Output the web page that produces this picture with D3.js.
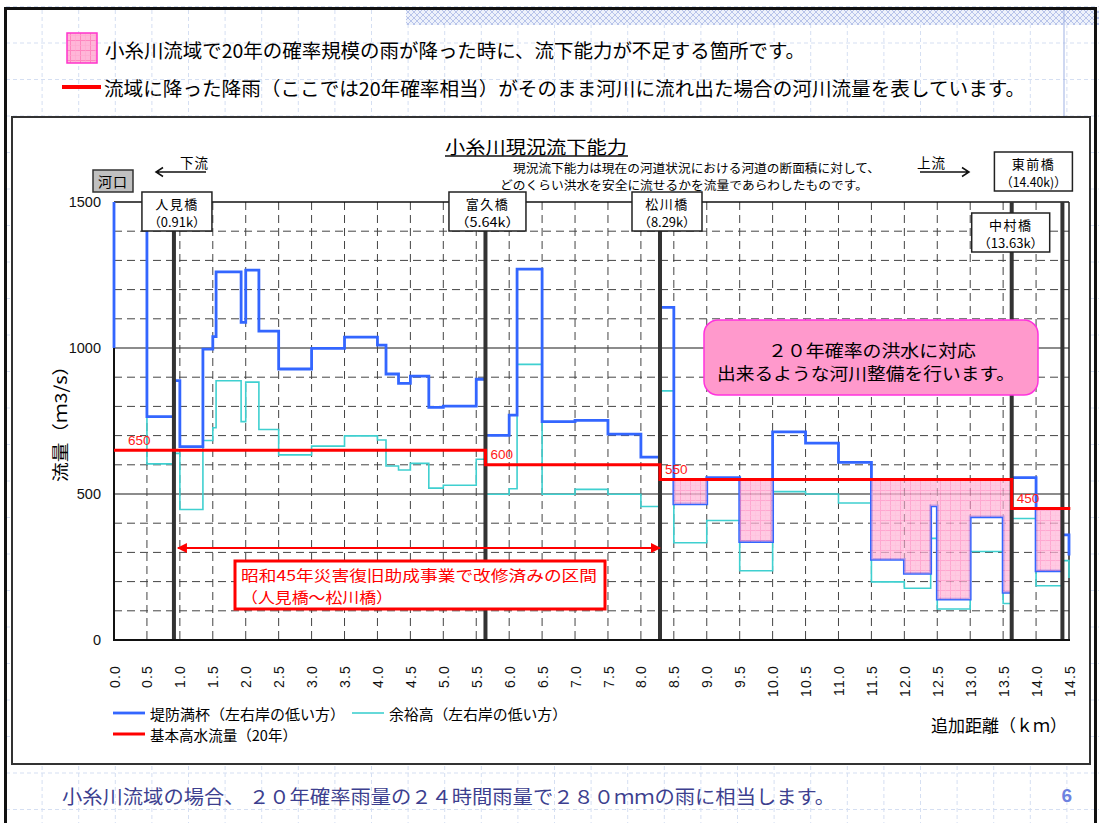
<!DOCTYPE html>
<html>
<head>
<meta charset="utf-8">
<script src="https://cdn.jsdelivr.net/npm/d3@7"></script>
<style>
body { margin: 0; background: #fff; }
svg { display: block; font-family: "Noto Sans CJK JP", "Noto Sans", sans-serif; }
.num { font-family: "Liberation Sans", Arial, sans-serif; }
</style>
</head>
<body>
<svg id="chart" width="1099" height="823"></svg>
<script>
// step data: distance (km) where a step starts, value (m3/s) held until the next one
var stepKm = [0, 0, 0.5, 0.91, 1.0, 1.35, 1.5, 1.55, 1.93, 2.0,
   2.2, 2.5, 3.0, 3.5, 4.0, 4.13, 4.32, 4.5, 4.78, 5.0,
   5.5, 5.64, 6.0, 6.12, 6.5, 7.0, 7.5, 8.0, 8.29, 8.5,
   9.0, 9.5, 10.0, 10.5, 11.0, 11.5, 12.0, 12.4, 12.5, 13.0,
   13.5, 13.63, 14.0, 14.4, 14.5];
// 堤防満杯（左右岸の低い方）
var bankFlow = [1000, 1600, 765, 888, 662, 996, 1039, 1261, 1088, 1267,
   1058, 928, 999, 1037, 1010, 911, 879, 904, 797, 801,
   893, 701, 770, 1270, 748, 752, 705, 626, 1139, 466,
   556, 337, 713, 674, 608, 276, 228, 459, 140, 422,
   163, 556, 237, 360, 289];
// 余裕高（左右岸の低い方）
var marginFlow = [1000, 1600, 603, 639, 447, 683, 727, 888, 748, 883,
   721, 634, 664, 699, 685, 596, 582, 605, 520, 530,
   619, 499, 518, 944, 499, 516, 499, 457, 853, 333,
   409, 237, 508, 500, 469, 199, 177, 348, 106, 303,
   125, 416, 186, 272, 212];
// 基本高水流量（20年）
var designKm = [0, 5.64, 8.29, 13.63, 14.52];
var designFlow = [650, 600, 550, 450, 450];

var bridgeNames = ["人見橋", "富久橋", "松川橋", "中村橋", "東前橋"];
var bridgeKm = [0.91, 5.64, 8.29, 13.63, 14.40];
var bridgeTags = ["（0.91k）", "（5.64k）", "（8.29k）", "（13.63k）", "（14.40k)）"];
// label boxes: shift from the bridge line, top, width
var bridgeBoxDx = [3, 2, 7, -1, -29];
var bridgeBoxTop = [192, 192, 192, 213, 152];
var bridgeBoxW = [70, 77, 70, 78, 78];

var kmTicks = ["0.0", "0.5", "1.0", "1.5", "2.0", "2.5", "3.0", "3.5", "4.0", "4.5",
   "5.0", "5.5", "6.0", "6.5", "7.0", "7.5", "8.0", "8.5", "9.0", "9.5",
   "10.0", "10.5", "11.0", "11.5", "12.0", "12.5", "13.0", "13.5", "14.0", "14.5"];
var flowTicks = [0, 500, 1000, 1500];
var shadeEnd = 14.40;   // shading stops at 東前橋

var x = d3.scaleLinear().domain([0, 14.5]).range([114, 1069]);
var y = d3.scaleLinear().domain([0, 1500]).range([640, 202]);

window.onload = function() {
   var svg = d3.select("#chart");
   makeDefs(svg);
   drawPage(svg);
   drawGrid(svg);
   drawSeries(svg);
   drawBridges(svg);
   drawNotes(svg);
};

function makeDefs(svg) {
   var defs = svg.append("defs");
   var pg = defs.append("pattern").attr("id", "pinkGrid")
      .attr("patternUnits", "userSpaceOnUse").attr("width", 10).attr("height", 10);
   pg.append("rect").attr("width", 10).attr("height", 10).attr("fill", "#ffb6d8");
   pg.append("path").attr("d", "M0 0.5H10M0.5 0V10").attr("stroke", "#ff86bf").attr("stroke-width", 1);
   pg.append("path").attr("d", "M0 5.5H10M5.5 0V10").attr("stroke", "#ffa6cf").attr("stroke-width", 0.6);

   var hp = defs.append("pattern").attr("id", "hatch")
      .attr("patternUnits", "userSpaceOnUse").attr("width", 6).attr("height", 6);
   hp.append("rect").attr("width", 6).attr("height", 6).attr("fill", "#eef2fb");
   hp.append("path").attr("d", "M0 0L6 6M6 0L0 6").attr("stroke", "#a9b9e6").attr("stroke-width", 0.8);

   defs.append("clipPath").attr("id", "plotClip")
      .append("rect").attr("x", x(0) - 2).attr("y", y(1500))
      .attr("width", x(14.5) - x(0) + 6).attr("height", y(0) - y(1500));

   defs.append("marker").attr("id", "redHead")
      .attr("viewBox", "0 0 10 10").attr("refX", 9).attr("refY", 5)
      .attr("markerWidth", 7).attr("markerHeight", 5).attr("orient", "auto-start-reverse")
      .attr("markerUnits", "strokeWidth")
      .append("path").attr("d", "M0 0L10 5L0 10z").attr("fill", "#ff0000");
}

function drawPage(svg) {
   // faint notebook grid behind the slide
   var bg = svg.append("g").attr("stroke", "#d5dff2").attr("stroke-width", 1).attr("stroke-dasharray", "4,3");
   for (var gx = 5.5; gx < 1099; gx += 36.6) {
      bg.append("line").attr("x1", gx).attr("x2", gx).attr("y1", 10).attr("y2", 823);
   }
   for (var gy = 6.5; gy < 823; gy += 36.5) {
      bg.append("line").attr("x1", 6).attr("x2", 1099).attr("y1", gy).attr("y2", gy);
   }
   svg.append("rect").attr("x", 406).attr("y", 10).attr("width", 693).attr("height", 15).attr("fill", "url(#hatch)");
   svg.append("line").attr("x1", 1064).attr("x2", 1064).attr("y1", 9).attr("y2", 117)
      .attr("stroke", "#9fb1e3").attr("stroke-width", 1);

   // slide border
   svg.append("path").attr("d", "M5.5 823V8.5H1095.5V823")
      .attr("fill", "none").attr("stroke", "#111").attr("stroke-width", 3);

   // header explanations
   svg.append("rect").attr("x", 67).attr("y", 33).attr("width", 30).attr("height", 30)
      .attr("fill", "url(#pinkGrid)").attr("stroke", "#ff33cc").attr("stroke-width", 1.5);
   svg.append("text").attr("x", 105).attr("y", 49).attr("dominant-baseline", "central")
      .attr("font-size", 19).attr("textLength", 700).attr("lengthAdjust", "spacingAndGlyphs")
      .text("小糸川流域で20年の確率規模の雨が降った時に、流下能力が不足する箇所です。");
   svg.append("line").attr("x1", 62).attr("x2", 101).attr("y1", 87).attr("y2", 87)
      .attr("stroke", "#ff0000").attr("stroke-width", 4);
   svg.append("text").attr("x", 104).attr("y", 87).attr("dominant-baseline", "central")
      .attr("font-size", 19).attr("textLength", 921).attr("lengthAdjust", "spacingAndGlyphs")
      .text("流域に降った降雨（ここでは20年確率相当）がそのまま河川に流れ出た場合の河川流量を表しています。");

   // chart panel
   svg.append("rect").attr("x", 12).attr("y", 117).attr("width", 1078).attr("height", 647)
      .attr("fill", "#fff").attr("stroke", "#333").attr("stroke-width", 2);

   // footer
   svg.append("text").attr("x", 62).attr("y", 795).attr("dominant-baseline", "central")
      .attr("font-size", 19).attr("fill", "#3d3f8f").attr("textLength", 773).attr("lengthAdjust", "spacingAndGlyphs")
      .text("小糸川流域の場合、 ２０年確率雨量の２４時間雨量で２８０ｍｍの雨に相当します。");
   svg.append("text").attr("class", "num").attr("x", 1072).attr("y", 795).attr("dominant-baseline", "central")
      .attr("text-anchor", "end").attr("font-size", 19).attr("font-weight", "bold").attr("fill", "#6e82e0")
      .text("6");
}

function drawGrid(svg) {
   var g = svg.append("g");
   var flowLines = y.ticks(15);
   flowLines.forEach(function(v) {
      if (v === 0 || v === 1500) return;
      var major = v % 500 === 0;
      g.append("line")
         .attr("x1", x(0)).attr("x2", x(14.5))
         .attr("y1", y(v)).attr("y2", y(v))
         .attr("stroke", major ? "#666" : "#444")
         .attr("stroke-width", major ? 1.6 : 1)
         .attr("stroke-dasharray", major ? null : "8,5");
   });
   kmTicks.forEach(function(t) {
      var d = parseFloat(t);
      if (d === 0 || d === 14.5) return;
      g.append("line")
         .attr("x1", x(d)).attr("x2", x(d))
         .attr("y1", y(1500)).attr("y2", y(0))
         .attr("stroke", "#444").attr("stroke-width", 1)
         .attr("stroke-dasharray", "8,5");
   });

   // frame and axis lines
   g.append("line").attr("x1", x(0)).attr("x2", x(14.5)).attr("y1", y(1500)).attr("y2", y(1500))
      .attr("stroke", "#111").attr("stroke-width", 1.5);
   g.append("line").attr("x1", x(14.5)).attr("x2", x(14.5)).attr("y1", y(1500)).attr("y2", y(0))
      .attr("stroke", "#222").attr("stroke-width", 1.5);
   g.append("line").attr("x1", x(0)).attr("x2", x(0)).attr("y1", y(1500)).attr("y2", y(0))
      .attr("stroke", "#111").attr("stroke-width", 2);

   var yAxis = d3.axisLeft(y).tickValues(flowTicks).tickFormat(d3.format("d")).tickSize(0).tickPadding(13);
   var ya = svg.append("g").attr("transform", "translate(" + x(0) + ",0)").call(yAxis);
   ya.select(".domain").remove();
   ya.selectAll("text").attr("class", "num").attr("font-size", 14.5).attr("fill", "#111");

   var xAxis = d3.axisBottom(x)
      .tickValues(kmTicks.map(parseFloat))
      .tickFormat(function(d, i) { return kmTicks[i]; })
      .tickSize(0);
   var xa = svg.append("g").attr("transform", "translate(0," + y(0) + ")").call(xAxis);
   xa.select(".domain").remove();
   xa.selectAll("text")
      .attr("class", "num")
      .attr("font-size", 14)
      .attr("letter-spacing", 1.2)
      .attr("fill", "#111")
      .attr("transform", "rotate(-90)")
      .attr("x", -25).attr("y", 0).attr("dy", "0.36em")
      .style("text-anchor", "end");

   svg.append("text")
      .attr("transform", "translate(59,419) rotate(-90)")
      .attr("text-anchor", "middle").attr("dominant-baseline", "central")
      .attr("font-size", 17).attr("textLength", 126).attr("lengthAdjust", "spacingAndGlyphs")
      .text("流量（ｍ3/s）");
   svg.append("text").attr("x", 1067).attr("y", 724).attr("text-anchor", "end")
      .attr("dominant-baseline", "central").attr("font-size", 17)
      .attr("textLength", 136).attr("lengthAdjust", "spacingAndGlyphs")
      .text("追加距離（ｋｍ）");
}

function stepValue(kms, vals, d) {
   var v = vals[0];
   for (var i = 0; i < kms.length; i++) {
      if (kms[i] <= d) v = vals[i];
   }
   return v;
}

function drawSeries(svg) {
   var plot = svg.append("g").attr("clip-path", "url(#plotClip)");

   // deficit: where the bank-full capacity is below the design flood
   var cuts = stepKm.concat(designKm).filter(function(d) { return d <= shadeEnd; });
   cuts.push(shadeEnd);
   cuts = Array.from(new Set(cuts)).sort(function(a, b) { return a - b; });
   var deficit = [];
   for (var i = 0; i < cuts.length - 1; i++) {
      var mid = (cuts[i] + cuts[i + 1]) / 2;
      var b = stepValue(stepKm, bankFlow, mid);
      var r = stepValue(designKm, designFlow, mid);
      if (b < r) deficit.push({ a: cuts[i], b: cuts[i + 1], low: b, high: r });
   }

   var line = d3.line()
      .x(function(d) { return x(d[0]); })
      .y(function(d) { return y(d[1]); })
      .curve(d3.curveStepAfter);

   plot.append("path")
      .datum(d3.zip(stepKm, marginFlow))
      .attr("d", line)
      .attr("fill", "none").attr("stroke", "#3fd0d0").attr("stroke-width", 1.6);
   plot.append("path")
      .datum(d3.zip(stepKm, bankFlow))
      .attr("d", line)
      .attr("fill", "none").attr("stroke", "#3366ff").attr("stroke-width", 2.8);

   plot.append("g").attr("opacity", 0.72)
      .selectAll("rect").data(deficit).join("rect")
      .attr("x", function(d) { return x(d.a); })
      .attr("width", function(d) { return x(d.b) - x(d.a); })
      .attr("y", function(d) { return y(d.high); })
      .attr("height", function(d) { return y(d.low) - y(d.high); })
      .attr("fill", "url(#pinkGrid)");

   // legend
   var lg = svg.append("g").attr("font-size", 14.5);
   var legend = [
      { x: 113, y: 713, color: "#3366ff", w: 2.8, len: 195, label: "堤防満杯（左右岸の低い方）" },
      { x: 352, y: 713, color: "#3fd0d0", w: 1.6, len: 178, label: "余裕高（左右岸の低い方）" },
      { x: 113, y: 734, color: "#ff0000", w: 3, len: 147, label: "基本高水流量（20年）" }
   ];
   legend.forEach(function(item) {
      lg.append("line").attr("x1", item.x).attr("x2", item.x + 32)
         .attr("y1", item.y).attr("y2", item.y)
         .attr("stroke", item.color).attr("stroke-width", item.w);
      lg.append("text").attr("x", item.x + 37).attr("y", item.y)
         .attr("dominant-baseline", "central")
         .attr("textLength", item.len).attr("lengthAdjust", "spacingAndGlyphs")
         .text(item.label);
   });
}

function drawBridges(svg) {
   var g = svg.append("g");
   bridgeKm.forEach(function(km) {
      g.append("line").attr("x1", x(km)).attr("x2", x(km))
         .attr("y1", y(1500)).attr("y2", y(0))
         .attr("stroke", "#333").attr("stroke-width", 4);
   });

   svg.append("line").attr("x1", x(0) - 1).attr("x2", x(14.5) + 1).attr("y1", y(0)).attr("y2", y(0))
      .attr("stroke", "#111").attr("stroke-width", 2);

   // design flood, drawn above the bridge lines
   var red = d3.line()
      .x(function(d) { return x(d[0]); })
      .y(function(d) { return y(d[1]); })
      .curve(d3.curveStepAfter);
   svg.append("path")
      .datum(d3.zip(designKm, designFlow))
      .attr("d", red)
      .attr("fill", "none").attr("stroke", "#ff0000").attr("stroke-width", 3);
   designKm.slice(0, -1).forEach(function(km, i) {
      svg.append("text").attr("class", "num")
         .attr("x", x(km) + (i === 0 ? 14 : 5))
         .attr("y", y(designFlow[i]) - 10)
         .attr("dominant-baseline", "central")
         .attr("font-size", 13.5).attr("fill", "#ff1a1a")
         .text(designFlow[i]);
   });

   bridgeNames.forEach(function(name, i) {
      var cx = x(bridgeKm[i]) + bridgeBoxDx[i];
      var top = bridgeBoxTop[i];
      var w = bridgeBoxW[i];
      var bg = svg.append("g");
      bg.append("rect").attr("x", cx - w / 2).attr("y", top).attr("width", w).attr("height", 39)
         .attr("fill", "#fff").attr("stroke", "#222").attr("stroke-width", 1.5);
      bg.append("text").attr("x", cx).attr("y", top + 11.5).attr("text-anchor", "middle")
         .attr("dominant-baseline", "central").attr("font-size", 13).attr("letter-spacing", 1.5)
         .text(name);
      bg.append("text").attr("x", cx).attr("y", top + 29).attr("text-anchor", "middle")
         .attr("dominant-baseline", "central").attr("font-size", 12.5)
         .attr("textLength", w - 12).attr("lengthAdjust", "spacingAndGlyphs")
         .text(bridgeTags[i]);
   });
}

function drawNotes(svg) {
   // title
   svg.append("text").attr("x", 536).attr("y", 146).attr("text-anchor", "middle")
      .attr("dominant-baseline", "central").attr("font-size", 18)
      .attr("textLength", 182).attr("lengthAdjust", "spacingAndGlyphs")
      .text("小糸川現況流下能力");
   svg.append("line").attr("x1", 445).attr("x2", 628).attr("y1", 156).attr("y2", 156)
      .attr("stroke", "#111").attr("stroke-width", 1.5);
   svg.append("text").attr("x", 513).attr("y", 167).attr("dominant-baseline", "central")
      .attr("font-size", 12).attr("textLength", 367).attr("lengthAdjust", "spacingAndGlyphs")
      .text("現況流下能力は現在の河道状況における河道の断面積に対して、");
   svg.append("text").attr("x", 500).attr("y", 184).attr("dominant-baseline", "central")
      .attr("font-size", 12).attr("textLength", 368).attr("lengthAdjust", "spacingAndGlyphs")
      .text("どのくらい洪水を安全に流せるかを流量であらわしたものです。");

   // 河口
   svg.append("rect").attr("x", 93).attr("y", 170).attr("width", 40).attr("height", 22)
      .attr("fill", "#c0c0c0").attr("stroke", "#333").attr("stroke-width", 1.5);
   svg.append("text").attr("x", 113).attr("y", 181).attr("text-anchor", "middle")
      .attr("dominant-baseline", "central").attr("font-size", 14).attr("letter-spacing", 1)
      .text("河口");

   // 下流 / 上流 arrows
   var ar = svg.append("g").attr("stroke", "#111").attr("stroke-width", 1.5).attr("fill", "none");
   ar.append("path").attr("d", "M206 172H156M163 167.5L156 172L163 176.5");
   ar.append("path").attr("d", "M920 172H969M962 167.5L969 172L962 176.5");
   svg.append("text").attr("x", 180).attr("y", 162).attr("dominant-baseline", "central")
      .attr("font-size", 13.5).attr("letter-spacing", 1).text("下流");
   svg.append("text").attr("x", 917).attr("y", 162).attr("dominant-baseline", "central")
      .attr("font-size", 13.5).attr("letter-spacing", 1).text("上流");

   // pink message box
   svg.append("rect").attr("x", 704).attr("y", 320).attr("width", 334).attr("height", 75)
      .attr("rx", 14).attr("fill", "#ff99cc").attr("stroke", "#ff33dd").attr("stroke-width", 1.5);
   svg.append("text").attr("x", 872).attr("y", 349).attr("text-anchor", "middle")
      .attr("dominant-baseline", "central").attr("font-size", 17)
      .attr("textLength", 208).attr("lengthAdjust", "spacingAndGlyphs")
      .text("２０年確率の洪水に対応");
   svg.append("text").attr("x", 866).attr("y", 372).attr("text-anchor", "middle")
      .attr("dominant-baseline", "central").attr("font-size", 17)
      .attr("textLength", 298).attr("lengthAdjust", "spacingAndGlyphs")
      .text("出来るような河川整備を行います。");

   // improved section between 人見橋 and 松川橋
   svg.append("line")
      .attr("x1", x(bridgeKm[0]) + 4).attr("x2", x(bridgeKm[2]))
      .attr("y1", 548).attr("y2", 548)
      .attr("stroke", "#ff0000").attr("stroke-width", 2)
      .attr("marker-start", "url(#redHead)").attr("marker-end", "url(#redHead)");
   svg.append("rect").attr("x", 235).attr("y", 561).attr("width", 370).attr("height", 48)
      .attr("fill", "#fff").attr("stroke", "#ff0000").attr("stroke-width", 3);
   svg.append("text").attr("x", 241).attr("y", 574).attr("dominant-baseline", "central")
      .attr("font-size", 15).attr("fill", "#ff0000")
      .attr("textLength", 356).attr("lengthAdjust", "spacingAndGlyphs")
      .text("昭和45年災害復旧助成事業で改修済みの区間");
   svg.append("text").attr("x", 241).attr("y", 596).attr("dominant-baseline", "central")
      .attr("font-size", 15).attr("fill", "#ff0000")
      .attr("textLength", 152).attr("lengthAdjust", "spacingAndGlyphs")
      .text("（人見橋～松川橋）");
}
</script>
</body>
</html>
